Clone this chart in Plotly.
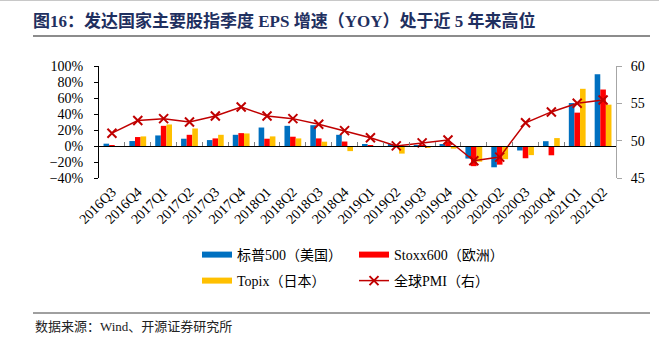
import plotly.graph_objects as go

quarters = ["2016Q3", "2016Q4", "2017Q1", "2017Q2", "2017Q3", "2017Q4",
            "2018Q1", "2018Q2", "2018Q3", "2018Q4", "2019Q1", "2019Q2",
            "2019Q3", "2019Q4", "2020Q1", "2020Q2", "2020Q3", "2020Q4",
            "2021Q1", "2021Q2"]
sp500 = [2.9, 6.2, 13.2, 9.1, 7.4, 14.0, 23.1, 25.2, 26.0, 14.0, 2.0, 2.0,
         0.4, 2.0, -15.7, -26.6, -5.6, 6.0, 53.7, 89.7]
stoxx600 = [0.3, 11.2, 25.2, 14.0, 9.5, 16.1, 9.1, 11.6, 9.5, 5.6, 0.8, 0.4,
            0.5, 5.0, -25.2, -23.3, -15.3, -11.6, 41.7, 70.6]
topix = [-0.5, 12.0, 26.9, 21.9, 14.0, 15.7, 12.0, 9.5, 5.4, -6.4, -0.6, -9.5,
         -2.5, -3.3, -19.6, -16.5, -11.4, 9.9, 71.5, 51.7]
pmi = [51.0, 52.7, 52.95, 52.5, 53.3, 54.5, 53.3, 52.95, 52.2, 51.35, 50.4,
       49.3, 49.7, 50.1, 47.3, 47.8, 52.4, 53.85, 55.0, 55.45]

names = ["标普500（美国）", "Stoxx600（欧洲）", "Topix（日本）", "全球PMI（右）"]
colors = ["#0070C0", "#FF0000", "#FFC000", "#C00000"]

W, H = 659, 343
ML, MR, MT, MB = 99, 43, 66, 165
PW, PH = W - ML - MR, H - MT - MB

FONT = "Liberation Serif, Times New Roman, Noto Sans CJK SC, serif"

fig = go.Figure()
for vals, name, col in zip([sp500, stoxx600, topix], names[:3], colors[:3]):
    fig.add_trace(go.Bar(x=quarters, y=vals, name=name, marker_color=col,
                         marker_line_width=0, showlegend=False,
                         xaxis="x", yaxis="y"))

fig.add_trace(go.Scatter(x=quarters, y=pmi, name=names[3], mode="lines+markers",
                         line=dict(color=colors[3], width=1.5),
                         marker=dict(symbol="x-thin", size=9,
                                     line=dict(color=colors[3], width=2)),
                         xaxis="x2", yaxis="y2", legend="legend2"))

# legend entries (bar swatches drawn as thick lines)
for name, col, lg in zip(names[:3], colors[:3], ["legend", "legend", "legend2"]):
    fig.add_trace(go.Scatter(x=[None], y=[None], name=name, mode="lines",
                             line=dict(color=col, width=6),
                             xaxis="x2", yaxis="y2", legend=lg))

fig.data[3].legendrank = 2
fig.data[6].legendrank = 1
fig.data[4].legendrank = 1
fig.data[5].legendrank = 2


def px_x(p):
    return (p - ML) / PW


def px_y(p):
    return (H - MB - p) / PH


shapes = [
    dict(type="line", xref="paper", yref="paper", x0=px_x(0), x1=px_x(W),
         y0=px_y(0.5), y1=px_y(0.5), line=dict(color="#C8C8C8", width=1)),
    dict(type="line", xref="paper", yref="paper", x0=px_x(33), x1=px_x(650),
         y0=px_y(36), y1=px_y(36), line=dict(color="#8C8C8C", width=2)),
    dict(type="line", xref="paper", yref="paper", x0=px_x(33), x1=px_x(650),
         y0=px_y(313), y1=px_y(313), line=dict(color="#404040", width=1)),
]

legend_common = dict(orientation="h", xref="container", yref="container",
                     xanchor="left", yanchor="middle", entrywidth=112,
                     entrywidthmode="pixels", bgcolor="rgba(0,0,0,0)",
                     font=dict(family=FONT, size=14, color="#000"),
                     itemwidth=30, traceorder="normal")

fig.update_layout(
    width=W, height=H,
    margin=dict(l=ML, r=MR, t=MT, b=MB, pad=0),
    paper_bgcolor="white", plot_bgcolor="white",
    font=dict(family=FONT, size=14, color="#000"),
    barmode="group", bargap=0.35, bargroupgap=0,
    title=dict(text="<b>图16：发达国家主要股指季度 EPS 增速（YOY）处于近 5 年来高位</b>",
               xref="container", yref="container", x=33 / W, xanchor="left",
               y=1 - 21 / H, yanchor="middle",
               font=dict(family=FONT, size=17, color="#1F3060")),
    xaxis=dict(type="category", anchor="free", position=40 / 140,
               showline=True, linecolor="#000", linewidth=1,
               ticks="inside", tickson="boundaries", ticklen=4,
               tickcolor="#808080", showticklabels=False, showgrid=False,
               zeroline=False, range=[-0.5, 19.5], domain=[0, 1]),
    yaxis=dict(range=[-40, 100], dtick=20, ticksuffix="%", showline=True,
               linecolor="#000", linewidth=1, ticks="outside", ticklen=4,
               tickcolor="#000", showgrid=False, zeroline=False,
               ticklabelstandoff=8, tickfont=dict(size=14)),
    xaxis2=dict(type="category", overlaying="x", anchor="y2", side="bottom",
                showline=False, ticks="", tickangle=-45, showgrid=False,
                zeroline=False, range=[-0.5, 19.5], ticklabelstandoff=2,
                tickfont=dict(size=14)),
    yaxis2=dict(overlaying="y", side="right", anchor="x2", range=[45, 60],
                dtick=5, showline=True, linecolor="#A6A6A6", linewidth=1,
                ticks="outside", ticklen=5, tickcolor="#A6A6A6",
                showgrid=False, zeroline=False, ticklabelstandoff=6,
                tickfont=dict(size=14)),
    legend=dict(x=197 / W, y=1 - 255 / H, **legend_common),
    legend2=dict(x=197 / W, y=1 - 281 / H, **legend_common),
    shapes=shapes,
    annotations=[dict(text="数据来源：Wind、开源证券研究所", xref="paper",
                      yref="paper", x=px_x(33), y=px_y(326), xanchor="left",
                      yanchor="middle", showarrow=False,
                      font=dict(family=FONT, size=13, color="#222"))],
)

fig.write_html("out.html")
